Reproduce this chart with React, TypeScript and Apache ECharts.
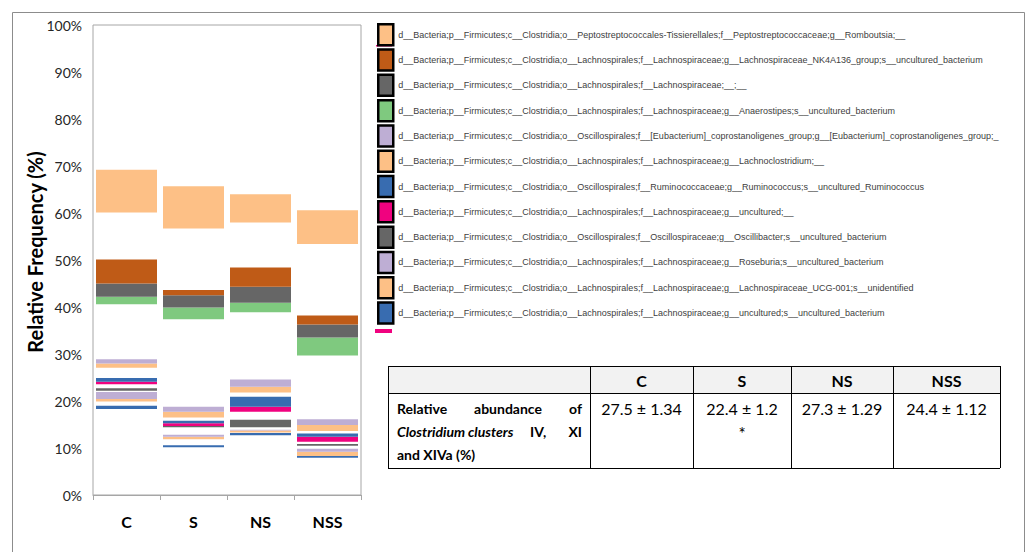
import React, { useEffect, useRef } from "react";
import * as echarts from "echarts";

// ---------- data ----------
const groups = ["C", "S", "NS", "NSS"];

// legend order (top of stack first)
const taxa = [
  "d__Bacteria;p__Firmicutes;c__Clostridia;o__Peptostreptococcales-Tissierellales;f__Peptostreptococcaceae;g__Romboutsia;__",
  "d__Bacteria;p__Firmicutes;c__Clostridia;o__Lachnospirales;f__Lachnospiraceae;g__Lachnospiraceae_NK4A136_group;s__uncultured_bacterium",
  "d__Bacteria;p__Firmicutes;c__Clostridia;o__Lachnospirales;f__Lachnospiraceae;__;__",
  "d__Bacteria;p__Firmicutes;c__Clostridia;o__Lachnospirales;f__Lachnospiraceae;g__Anaerostipes;s__uncultured_bacterium",
  "d__Bacteria;p__Firmicutes;c__Clostridia;o__Oscillospirales;f__[Eubacterium]_coprostanoligenes_group;g__[Eubacterium]_coprostanoligenes_group;_",
  "d__Bacteria;p__Firmicutes;c__Clostridia;o__Lachnospirales;f__Lachnospiraceae;g__Lachnoclostridium;__",
  "d__Bacteria;p__Firmicutes;c__Clostridia;o__Oscillospirales;f__Ruminococcaceae;g__Ruminococcus;s__uncultured_Ruminococcus",
  "d__Bacteria;p__Firmicutes;c__Clostridia;o__Lachnospirales;f__Lachnospiraceae;g__uncultured;__",
  "d__Bacteria;p__Firmicutes;c__Clostridia;o__Oscillospirales;f__Oscillospiraceae;g__Oscillibacter;s__uncultured_bacterium",
  "d__Bacteria;p__Firmicutes;c__Clostridia;o__Lachnospirales;f__Lachnospiraceae;g__Roseburia;s__uncultured_bacterium",
  "d__Bacteria;p__Firmicutes;c__Clostridia;o__Lachnospirales;f__Lachnospiraceae;g__Lachnospiraceae_UCG-001;s__unidentified",
  "d__Bacteria;p__Firmicutes;c__Clostridia;o__Lachnospirales;f__Lachnospiraceae;g__uncultured;s__uncultured_bacterium",
];

// relative frequency (%) of each shown taxon, per group
const romboutsia = [9.1, 9.0, 6.0, 7.2];
const nk4a136 = [5.1, 1.1, 4.1, 1.9];
const lachnoUnassigned = [2.8, 2.6, 3.4, 2.8];
const anaerostipes = [1.6, 2.5, 2.0, 3.8];
const eubacterium = [0.9, 1.1, 1.55, 1.2];
const lachnoclostridium = [0.9, 1.2, 1.25, 1.3];
const ruminococcus = [0.8, 0.55, 2.1, 0.7];
const lachnoUncultured = [0.55, 0.55, 1.1, 1.05];
const oscillibacter = [0.5, 0.3, 1.6, 0.35];
const roseburia = [1.5, 0.4, 0.2, 0.65];
const ucg001 = [0.5, 0.55, 0.4, 0.9];
const unculturedBact = [0.7, 0.45, 0.5, 0.35];

// other (unshown) taxa stacked directly below each shown taxon
const otherBelowRomboutsia = [10.0, 13.1, 9.6, 15.2];
const otherBelowNk4a136 = [0, 0, 0, 0];
const otherBelowLachnoUnassigned = [0, 0, 0, 0];
const otherBelowAnaerostipes = [11.7, 18.6, 14.3, 13.6];
const otherBelowEubacterium = [0, 0, 0, 0];
const otherBelowLachnoclostridium = [2.2, 0.7, 0.9, 0.5];
const otherBelowRuminococcus = [0, 0, 0, 0];
const otherBelowLachnoUncultured = [0.85, 0, 1.7, 0.5];
const otherBelowOscillibacter = [0.3, 1.6, 0.5, 0.65];
const otherBelowRoseburia = [0, 0, 0, 0];
const otherBelowUcg001 = [0.9, 1.25, 0.1, 0];
const otherBelowUnculturedBact = [18.3, 10.15, 12.7, 7.95];

const yTicks = [0, 10, 20, 30, 40, 50, 60, 70, 80, 90, 100];
const yTitle = "Relative Frequency (%)";

// table
const tableGroups = ["C", "S", "NS", "NSS"];
const clusterMean = [27.5, 22.4, 27.3, 24.4];
const clusterSd = [1.34, 1.2, 1.29, 1.12];
const significance = ["", "*", "", ""];

// ---------- styles ----------
const palette = [
  "#fdc086", "#bf5b17", "#666666", "#7fc97f", "#beaed4", "#fdc086",
  "#386cb0", "#f0027f", "#666666", "#beaed4", "#fdc086", "#386cb0",
];

export default function App() {
  const ref = useRef<HTMLDivElement>(null);
  useEffect(() => {
    document.body.style.margin = "0";
    const chart = echarts.init(ref.current!, null, { renderer: "svg" });

    const values = [
      romboutsia, nk4a136, lachnoUnassigned, anaerostipes, eubacterium, lachnoclostridium,
      ruminococcus, lachnoUncultured, oscillibacter, roseburia, ucg001, unculturedBact,
    ];
    const others = [
      otherBelowRomboutsia, otherBelowNk4a136, otherBelowLachnoUnassigned, otherBelowAnaerostipes,
      otherBelowEubacterium, otherBelowLachnoclostridium, otherBelowRuminococcus,
      otherBelowLachnoUncultured, otherBelowOscillibacter, otherBelowRoseburia,
      otherBelowUcg001, otherBelowUnculturedBact,
    ];

    const series: any[] = [];
    for (let i = taxa.length - 1; i >= 0; i--) {
      series.push({
        name: "other_" + i,
        type: "bar",
        stack: "all",
        barWidth: 61,
        data: others[i],
        itemStyle: { color: "rgba(0,0,0,0)" },
        silent: true,
      });
      series.push({
        name: taxa[i],
        type: "bar",
        stack: "all",
        barWidth: 61,
        data: values[i],
        itemStyle: { color: palette[i] },
      });
    }

    const calibri = "Lato, 'Open Sans', sans-serif";
    const graphics: any[] = [];
    // outer frame
    graphics.push({
      type: "rect",
      shape: { x: 12.5, y: 12.5, width: 1012, height: 600 },
      style: { fill: "none", stroke: "#8c8c8c", lineWidth: 1 },
      silent: true,
    });
    // y-axis title
    graphics.push({
      type: "text",
      x: 35,
      y: 252,
      rotation: Math.PI / 2,
      style: { text: yTitle, fill: "#000", font: `bold 20px ${calibri}`, align: "center", verticalAlign: "middle" },
    });
    // stray legend marks
    graphics.push({ type: "rect", shape: { x: 376, y: 45, width: 16, height: 1.5 }, style: { fill: "#f0027f" } });
    graphics.push({ type: "rect", shape: { x: 375, y: 329, width: 17, height: 4 }, style: { fill: "#f0027f" } });

    // table
    const xs = [388, 590, 693, 791, 893, 1000];
    const ys = [366, 393, 468];
    graphics.push({
      type: "rect",
      shape: { x: xs[0], y: ys[0], width: xs[5] - xs[0], height: ys[1] - ys[0] },
      style: { fill: "#f2f2f2" },
    });
    ys.forEach((y) =>
      graphics.push({
        type: "line",
        shape: { x1: xs[0], y1: y + 0.5, x2: xs[5], y2: y + 0.5 },
        style: { stroke: "#000", lineWidth: 1 },
      })
    );
    xs.forEach((x) =>
      graphics.push({
        type: "line",
        shape: { x1: x + 0.5, y1: ys[0], x2: x + 0.5, y2: ys[2] },
        style: { stroke: "#000", lineWidth: 1 },
      })
    );
    tableGroups.forEach((g, i) => {
      const cx = (xs[i + 1] + xs[i + 2]) / 2;
      graphics.push({
        type: "text",
        x: cx,
        y: (ys[0] + ys[1]) / 2 + 1,
        style: { text: g, fill: "#000", font: `bold 16px ${calibri}`, align: "center", verticalAlign: "middle" },
      });
      graphics.push({
        type: "text",
        x: cx,
        y: 408,
        style: {
          text: `${clusterMean[i]} \u00b1 ${clusterSd[i]}`,
          fill: "#000",
          font: `16px ${calibri}`,
          align: "center",
          verticalAlign: "middle",
        },
      });
      if (significance[i]) {
        graphics.push({
          type: "text",
          x: cx,
          y: 433,
          style: { text: significance[i], fill: "#000", font: `17px ${calibri}`, align: "center", verticalAlign: "middle" },
        });
      }
    });
    const rowFont = `bold 14px ${calibri}`;
    const italicFont = `italic bold 14px ${calibri}`;
    const cellText = (text: string, x: number, y: number, align: string, font = rowFont) =>
      graphics.push({ type: "text", x, y, style: { text, fill: "#000", font, align, verticalAlign: "middle" } });
    cellText("Relative", 397, 408, "left");
    cellText("abundance", 508, 408, "center");
    cellText("of", 582, 408, "right");
    cellText("Clostridium", 397, 431, "left", italicFont);
    cellText("clusters", 468, 431, "left", italicFont);
    cellText("IV,", 530, 431, "left");
    cellText("XI", 582, 431, "right");
    cellText("and XIVa (%)", 397, 454, "left");

    chart.setOption({
      animation: false,
      backgroundColor: "#fff",
      grid: {
        left: 93,
        top: 25,
        width: 268,
        height: 470,
        show: true,
        borderColor: "#a6a6a6",
        borderWidth: 1,
        containLabel: false,
      },
      legend: {
        data: taxa,
        orient: "vertical",
        left: 377,
        top: 23,
        padding: 0,
        itemWidth: 15,
        itemHeight: 21,
        itemGap: 1.8,
        icon: "rect",
        selectedMode: false,
        itemStyle: { borderColor: "#000", borderWidth: 2.5 },
        textStyle: { fontFamily: "'Liberation Sans', Arial, sans-serif", fontSize: 9, color: "#404040" },
      },
      xAxis: {
        type: "category",
        data: groups,
        axisLine: { show: true, lineStyle: { color: "#a6a6a6" } },
        axisTick: { show: true, length: 5, lineStyle: { color: "#a6a6a6" } },
        axisLabel: { fontFamily: calibri, fontWeight: "bold", fontSize: 16, color: "#000", margin: 18 },
      },
      yAxis: {
        type: "value",
        min: 0,
        max: 100,
        interval: 10,
        axisLine: { show: false },
        axisTick: { show: false },
        splitLine: { show: false },
        axisLabel: {
          formatter: (v: number) => (yTicks.includes(v) ? v + "%" : ""),
          fontFamily: calibri,
          fontSize: 14,
          color: "#262626",
          margin: 11,
        },
      },
      series,
      graphic: graphics,
    });
    return () => chart.dispose();
  }, []);
  return <div ref={ref} style={{ width: 1030, height: 552 }} />;
}
